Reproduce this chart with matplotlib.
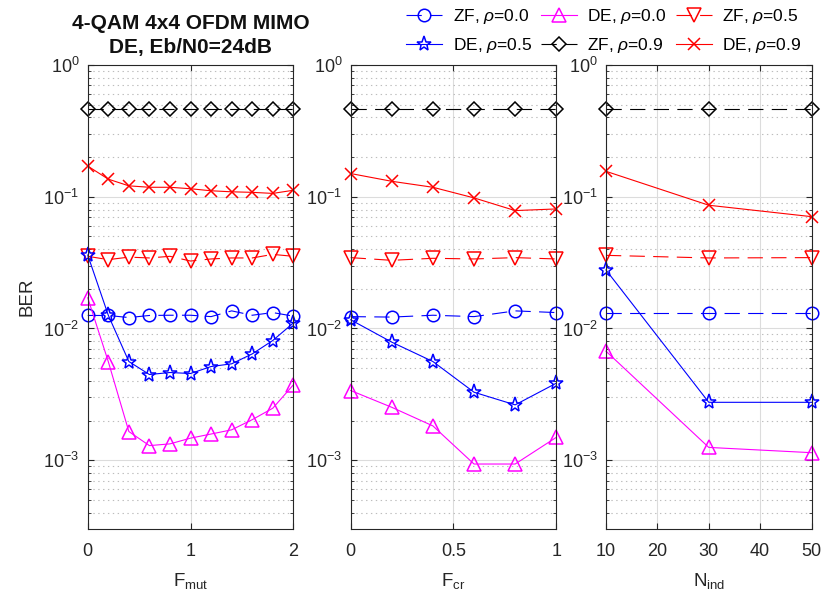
import numpy as np
import matplotlib
matplotlib.use("Agg")
import matplotlib.pyplot as plt
from matplotlib.ticker import FixedLocator, NullFormatter, LogLocator

plt.rcParams["font.family"] = ["Liberation Sans", "DejaVu Sans"]
plt.rcParams["mathtext.fontset"] = "custom"
plt.rcParams["mathtext.rm"] = "Liberation Sans"
plt.rcParams["mathtext.it"] = "Liberation Sans:italic"
plt.rcParams["lines.scale_dashes"] = False

# sweep values for each panel
f_mut = [0, 0.2, 0.4, 0.6, 0.8, 1.0, 1.2, 1.4, 1.6, 1.8, 2.0]
f_cr = [0, 0.2, 0.4, 0.6, 0.8, 1.0]
n_ind = [10, 30, 50]

# BER vs F_mut
mut_zf00 = [0.01255, 0.01255, 0.0121, 0.01255, 0.0126, 0.0126, 0.0123, 0.0136, 0.0126, 0.0132, 0.0124]
mut_de00 = [0.0171, 0.0056, 0.00165, 0.00129, 0.00133, 0.00147, 0.00158, 0.0017, 0.00203, 0.00248, 0.00373]
mut_zf05 = [0.0353, 0.0333, 0.0348, 0.0343, 0.0353, 0.0325, 0.0337, 0.0343, 0.0343, 0.0365, 0.0353]
mut_de05 = [0.0361, 0.0126, 0.00561, 0.00447, 0.00463, 0.00455, 0.00514, 0.00539, 0.00641, 0.0081, 0.011]
mut_zf09 = [0.46] * 11
mut_de09 = [0.171, 0.136, 0.121, 0.118, 0.118, 0.115, 0.111, 0.109, 0.108, 0.106, 0.112]

# BER vs F_cr
cr_zf00 = [0.0123, 0.0122, 0.0126, 0.0123, 0.0136, 0.0132]
cr_de00 = [0.00338, 0.00252, 0.00182, 0.000935, 0.000935, 0.00149]
cr_zf05 = [0.0345, 0.0329, 0.0341, 0.0337, 0.0345, 0.0337]
cr_de05 = [0.01164, 0.00787, 0.00561, 0.00328, 0.00263, 0.00384]
cr_zf09 = [0.46] * 6
cr_de09 = [0.15, 0.131, 0.118, 0.098, 0.0785, 0.0808]

# BER vs N_ind
ind_zf00 = [0.0131, 0.0131, 0.0131]
ind_de00 = [0.00672, 0.00125, 0.00114]
ind_zf05 = [0.0359, 0.0343, 0.0345]
ind_de05 = [0.0278, 0.00275, 0.00275]
ind_zf09 = [0.46, 0.46, 0.46]
ind_de09 = [0.156, 0.0862, 0.0706]

labels = ["ZF, $\\rho$=0.0", "DE, $\\rho$=0.0", "ZF, $\\rho$=0.5",
          "DE, $\\rho$=0.5", "ZF, $\\rho$=0.9", "DE, $\\rho$=0.9"]

styles = [
    dict(color="#0000ff", marker="o", ms=9, dashes=(11, 6)),
    dict(color="#ff00ff", marker="^", ms=9.5, ls="-"),
    dict(color="#ff0000", marker="v", ms=9.5, dashes=(11, 6)),
    dict(color="#0000ff", marker="*", ms=11, ls="-"),
    dict(color="#000000", marker="D", ms=7.5, dashes=(11, 6)),
    dict(color="#ff0000", marker="x", ms=9, ls="-"),
]

panels = [
    (f_mut, [mut_zf00, mut_de00, mut_zf05, mut_de05, mut_zf09, mut_de09],
     "F$_{\\rm mut}$", (0, 2), [0, 1, 2], ["0", "1", "2"]),
    (f_cr, [cr_zf00, cr_de00, cr_zf05, cr_de05, cr_zf09, cr_de09],
     "F$_{\\rm cr}$", (0, 1), [0, 0.5, 1], ["0", "0.5", "1"]),
    (n_ind, [ind_zf00, ind_de00, ind_zf05, ind_de05, ind_zf09, ind_de09],
     "N$_{\\rm ind}$", (10, 50), [10, 20, 30, 40, 50], ["10", "20", "30", "40", "50"]),
]

fig = plt.figure(figsize=(8.3, 6.06), dpi=100)
lefts = [0.1057, 0.4225, 0.7301]
axes_col = "#262626"
handles = []
for i, (xv, series, xlab, xlim, xt, xtl) in enumerate(panels):
    ax = fig.add_axes([lefts[i], 0.1276, 0.2477, 0.7651])
    for j, (ys, st) in enumerate(zip(series, styles)):
        ln, = ax.plot(xv, ys, lw=0.8, mfc="none", mew=1.1, clip_on=False, **st)
        if i == 0:
            handles.append(ln)
    ax.set_yscale("log")
    ax.set_ylim(10 ** -3.52, 1)
    ax.set_xlim(*xlim)
    ax.set_xticks(xt)
    ax.set_xticklabels(xtl)
    ax.yaxis.set_major_locator(FixedLocator([1e-3, 1e-2, 1e-1, 1]))
    ax.yaxis.set_minor_locator(LogLocator(base=10, subs=np.arange(2, 10)))
    ax.yaxis.set_minor_formatter(NullFormatter())
    ax.grid(True, which="major", color="#dcdcdc", lw=0.8)
    ax.grid(True, which="minor", axis="y", color="#bdbdbd", ls=(0, (1, 2.5)), lw=0.8)
    ax.set_axisbelow(True)
    ax.tick_params(which="both", direction="in", top=True, right=True,
                   colors=axes_col, labelsize=13)
    ax.tick_params(which="major", length=4, width=0.8, pad=6)
    ax.tick_params(axis="x", which="major", pad=10)
    ax.tick_params(which="minor", length=2.2, width=0.6)
    for sp in ax.spines.values():
        sp.set_color(axes_col)
        sp.set_linewidth(0.8)
    ax.set_xlabel(xlab, fontsize=13.5, color=axes_col, labelpad=8)
    if i == 0:
        ax.set_ylabel("BER", fontsize=13.5, color=axes_col, labelpad=6)
        ax.set_title("4-QAM 4x4 OFDM MIMO\nDE, Eb/N0=24dB", fontsize=15,
                     fontweight="bold", color="#111111", linespacing=1.3, pad=9)

# legend is filled column by column, so interleave the two rows
order = [0, 3, 1, 4, 2, 5]
leg = fig.legend([handles[k] for k in order], [labels[k] for k in order],
                 ncol=3, loc="upper right", bbox_to_anchor=(0.966, 0.988),
                 frameon=False, fontsize=12.5, handlelength=2.1,
                 handletextpad=0.6, columnspacing=0.5, labelspacing=0.55,
                 borderpad=0, borderaxespad=0)

fig.savefig("out.png", dpi=100)
